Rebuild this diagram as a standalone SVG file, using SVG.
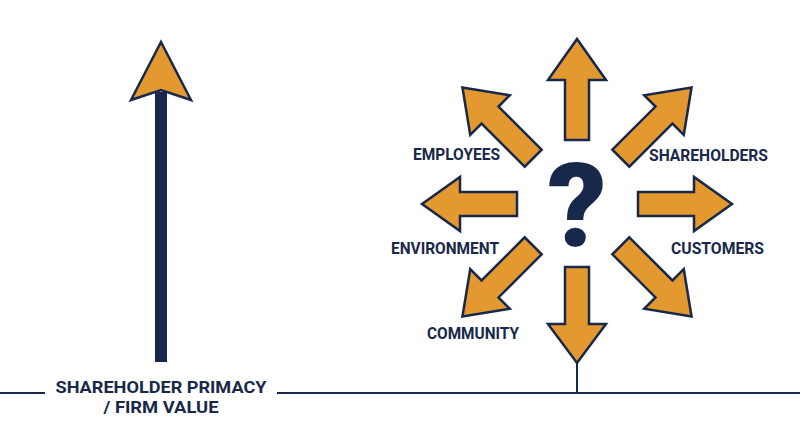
<svg xmlns="http://www.w3.org/2000/svg" width="800" height="447" viewBox="0 0 800 447">
<style>
.lbl{font-family:Roboto,"Liberation Sans",sans-serif;font-weight:700;font-size:16.5px;fill:#18284a}
.arr{fill:#e3992f;stroke:#18284a;stroke-width:2.5;stroke-linejoin:miter}
.ln{stroke:#18284a;stroke-width:2;fill:none}
</style>
<defs>
<path id="diag" d="M62,-12 H123 V-28 L162,0 L123,28 V12 H62 Z"/>
</defs>
<rect width="800" height="447" fill="#ffffff"/>
<g id="connectors">
<line class="ln" x1="0" y1="393" x2="45" y2="393"/>
<line class="ln" x1="277" y1="393" x2="800" y2="393"/>
<line class="ln" x1="577" y1="362" x2="577" y2="393"/>
</g>
<g id="primacy-arrow">
<rect x="155" y="92" width="12" height="270" fill="#18284a"/>
<path class="arr" d="M161,42 L191,100 L161,90 L131,100 Z" stroke-width="2.5"/>
</g>
<g id="primacy-label">
<text class="lbl" x="161" y="393" text-anchor="middle" font-size="18.5" textLength="211" lengthAdjust="spacingAndGlyphs">SHAREHOLDER PRIMACY</text>
<text class="lbl" x="161" y="413" text-anchor="middle" font-size="18.5" textLength="115" lengthAdjust="spacingAndGlyphs">/ FIRM VALUE</text>
</g>
<g id="arrow-up"><path class="arr" d="M565,140 V80 H548 L577,39 L606,80 H589 V140 Z"/></g>
<g id="arrow-down"><path class="arr" d="M565,267 V324 H548 L577,363 L606,324 H589 V267 Z"/></g>
<g id="arrow-left"><path class="arr" d="M517,192 H460 V177 L422,204 L460,231 V216 H517 Z"/></g>
<g id="arrow-right"><path class="arr" d="M638,192 H694 V177 L732,204 L694,231 V216 H638 Z"/></g>
<g id="arrow-ul"><use href="#diag" class="arr" transform="translate(577,202) rotate(-135)"/></g>
<g id="arrow-ur"><use href="#diag" class="arr" transform="translate(577,202) rotate(-45)"/></g>
<g id="arrow-ll"><use href="#diag" class="arr" transform="translate(577,202) rotate(135)"/></g>
<g id="arrow-lr"><use href="#diag" class="arr" transform="translate(577,202) rotate(45)"/></g>
<g id="question">
<text x="577" y="246" text-anchor="middle" font-family="Roboto,'Liberation Sans',sans-serif" font-weight="900" font-size="116" fill="#18284a">?</text>
</g>
<g id="employees"><text class="lbl" x="413" y="160" textLength="87" lengthAdjust="spacingAndGlyphs">EMPLOYEES</text></g>
<g id="shareholders"><text class="lbl" x="649" y="161" textLength="119" lengthAdjust="spacingAndGlyphs">SHAREHOLDERS</text></g>
<g id="environment"><text class="lbl" x="391" y="254" textLength="108" lengthAdjust="spacingAndGlyphs">ENVIRONMENT</text></g>
<g id="customers"><text class="lbl" x="671" y="254" textLength="93" lengthAdjust="spacingAndGlyphs">CUSTOMERS</text></g>
<g id="community"><text class="lbl" x="427" y="339" textLength="92" lengthAdjust="spacingAndGlyphs">COMMUNITY</text></g>
</svg>
